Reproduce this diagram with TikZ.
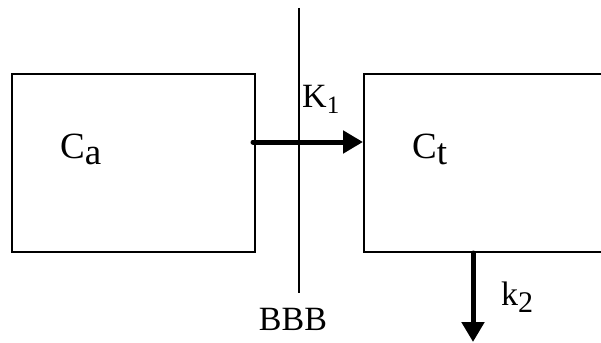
\documentclass[tikz,border=0pt]{standalone}
\usepackage{fontspec}
\setmainfont{Liberation Serif}
\usetikzlibrary{arrows.meta}
\tikzset{
  comp/.style={draw, line width=2pt, inner sep=0pt},
  flux/.style={line width=5pt, line cap=round, -{Triangle[length=20pt,width=22pt]}},
  lbl/.style={font=\fontsize{34}{40}\selectfont, inner sep=0pt, anchor=base west},
  conc/.style={lbl, font=\fontsize{37}{44}\selectfont}
}
\begin{document}
\begin{tikzpicture}[x=1pt,y=-1pt]
\clip (0,0) rectangle (601,342);
% compartments
\node[comp, minimum width=243pt, minimum height=178pt] (lbox) at (133.5,163) {};
\node[comp, minimum width=260pt, minimum height=178pt] (rbox) at (494,163) {};
\node[conc] (ca) at (60,158) {C\raisebox{-6pt}{a}};
\node[conc] (ct) at (412,158) {C\raisebox{-6pt}{t}};
% barrier
\coordinate (btop) at (299,8); \coordinate (bbot) at (299,293);
\draw[line width=2.2pt] (btop) -- (bbot);
\node[lbl, anchor=base] (bbb) at (293,330) {BBB};
% transfer
\coordinate (src) at (253,142); \coordinate (out) at (473,342);
\draw[flux] (src) -- (src -| rbox.west);
\node[lbl] (k1) at (302,107) {K\raisebox{-6pt}{\fontsize{25}{30}\selectfont 1}};
\draw[flux] (out |- rbox.south) -- (out);
\node[lbl] (k2) at (501,305) {k\raisebox{-7pt}{\fontsize{30}{36}\selectfont 2}};
\end{tikzpicture}
\end{document}
